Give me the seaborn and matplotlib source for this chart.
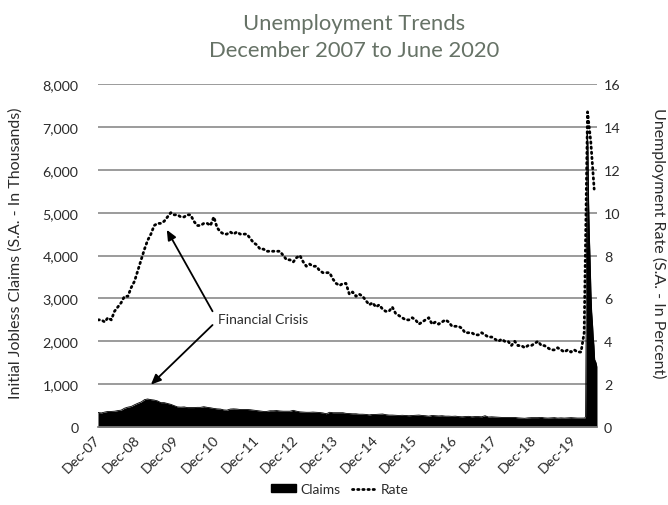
import numpy as np
import pandas as pd
import matplotlib
matplotlib.use("Agg")
import matplotlib.pyplot as plt
import matplotlib.dates as mdates
from matplotlib.patches import Patch
from matplotlib.lines import Line2D
import seaborn as sns

# ---------------- data ----------------
# Initial jobless claims (thousands), monthly Dec-2007 .. Feb-2020
claims_monthly = [
    340,
    330, 350, 365, 365, 370, 385, 395, 440, 465, 480, 520, 555,   # 2008
    585, 640, 655, 640, 630, 610, 570, 570, 550, 530, 500, 470,   # 2009
    465, 470, 455, 455, 455, 460, 460, 475, 460, 450, 435, 425,   # 2010
    420, 400, 395, 420, 425, 420, 410, 410, 410, 405, 395, 385,   # 2011
    375, 365, 365, 380, 380, 385, 375, 370, 370, 370, 390, 370,   # 2012
    355, 350, 345, 345, 350, 345, 340, 330, 310, 345, 335, 335,   # 2013
    335, 335, 320, 315, 310, 310, 300, 300, 295, 285, 295, 295,   # 2014
    300, 305, 290, 280, 280, 275, 270, 275, 270, 265, 270, 275,   # 2015
    280, 270, 265, 255, 270, 265, 260, 265, 255, 255, 250, 255,   # 2016
    245, 240, 245, 250, 240, 245, 245, 240, 265, 235, 240, 235,   # 2017
    230, 225, 225, 225, 225, 225, 215, 210, 205, 215, 220, 220,   # 2018
    220, 225, 215, 210, 215, 220, 210, 215, 210, 215, 220, 215,   # 2019
    210, 210,                                                     # 2020 Jan-Feb
]
claims_weekly_dates = ["2020-03-07", "2020-03-14", "2020-03-21", "2020-03-28",
                       "2020-04-04", "2020-04-11", "2020-04-18", "2020-04-25",
                       "2020-05-02", "2020-05-09", "2020-05-16", "2020-05-23",
                       "2020-05-30", "2020-06-06", "2020-06-13", "2020-06-20",
                       "2020-06-27"]
claims_weekly = [211, 251, 3307, 6867, 6615, 5237, 4442, 3867, 3176, 2687,
                 2446, 2123, 1897, 1566, 1540, 1482, 1413]

# Unemployment rate (%), monthly Dec-2007 .. Jun-2020
rate = [
    5.0,
    5.0, 4.9, 5.1, 5.0, 5.4, 5.6, 5.8, 6.1, 6.1, 6.5, 6.8, 7.3,   # 2008
    7.8, 8.3, 8.7, 9.0, 9.4, 9.5, 9.5, 9.6, 9.8, 10.0, 9.9, 9.9,  # 2009
    9.8, 9.8, 9.9, 9.9, 9.6, 9.4, 9.4, 9.5, 9.5, 9.4, 9.8, 9.3,   # 2010
    9.1, 9.0, 9.0, 9.1, 9.0, 9.1, 9.0, 9.0, 9.0, 8.8, 8.6, 8.5,   # 2011
    8.3, 8.3, 8.2, 8.2, 8.2, 8.2, 8.2, 8.0, 7.8, 7.8, 7.7, 7.9,   # 2012
    8.0, 7.7, 7.5, 7.6, 7.5, 7.5, 7.3, 7.2, 7.2, 7.2, 6.9, 6.7,   # 2013
    6.6, 6.7, 6.7, 6.2, 6.3, 6.1, 6.2, 6.1, 5.9, 5.7, 5.8, 5.6,   # 2014
    5.7, 5.5, 5.4, 5.4, 5.6, 5.3, 5.2, 5.1, 5.0, 5.0, 5.1, 5.0,   # 2015
    4.8, 4.9, 5.0, 5.1, 4.8, 4.9, 4.8, 4.9, 5.0, 4.9, 4.7, 4.7,   # 2016
    4.7, 4.6, 4.4, 4.4, 4.4, 4.3, 4.3, 4.4, 4.3, 4.2, 4.2, 4.1,   # 2017
    4.0, 4.1, 4.0, 4.0, 3.8, 4.0, 3.8, 3.8, 3.7, 3.8, 3.8, 3.9,   # 2018
    4.0, 3.8, 3.8, 3.7, 3.6, 3.6, 3.7, 3.6, 3.5, 3.6, 3.5, 3.6,   # 2019
    3.5, 3.5, 4.4, 14.7, 13.3, 11.1,                              # 2020
]

title_lines = ["Unemployment Trends", "December 2007 to June 2020"]
left_label = "Initial Jobless Claims (S.A. - In Thousands)"
right_label = "Unemployment Rate (S.A. - In Percent)"
annotation_text = "Financial Crisis"
series_names = ["Claims", "Rate"]

# ---------------- build frames ----------------
claims_dates = list(pd.date_range("2007-12-01", periods=len(claims_monthly), freq="MS")) + \
    list(pd.to_datetime(claims_weekly_dates))
claims_df = pd.DataFrame({"date": claims_dates, "claims": claims_monthly + claims_weekly})
rate_df = pd.DataFrame({"date": pd.date_range("2007-12-01", periods=len(rate), freq="MS"),
                        "rate": rate})

# ---------------- figure ----------------
sns.set_theme(style="white")
plt.rcParams["font.family"] = ["Lato", "DejaVu Sans"]

fig = plt.figure(figsize=(6.68, 5.06), dpi=100)
fig.patch.set_facecolor("white")
ax = fig.add_axes([0.1467, 0.154, 0.747, 0.678])
ax.set_facecolor("white")

grid_c = "#808080"
text_c = "#2b2b2b"
dots = (0, (0.5, 1.35))

ax.set_ylim(0, 8000)
ax.set_yticks(np.arange(0, 8001, 1000))
ax.yaxis.set_major_formatter(matplotlib.ticker.FuncFormatter(lambda v, p: f"{v:,.0f}"))
ax.grid(axis="y", color=grid_c, lw=1.1)
ax.grid(axis="x", visible=False)
ax.set_axisbelow(True)

ax.fill_between(claims_df["date"], claims_df["claims"], 0, color="black", lw=0, zorder=2)
sns.lineplot(data=claims_df, x="date", y="claims", ax=ax, color="black", lw=0.6, zorder=2)

ax.set_xlim(pd.Timestamp("2007-12-01"), pd.Timestamp("2020-06-27"))
ticks = pd.date_range("2007-12-01", "2019-12-01", freq="12MS")
ax.set_xticks(ticks)
ax.xaxis.set_major_formatter(mdates.DateFormatter("%b-%y"))
ax.tick_params(axis="x", length=4, width=0.8, color="#7f7f7f", pad=3,
               labelsize=10.3, labelcolor=text_c)
ax.tick_params(axis="y", length=0, pad=14, labelsize=10.3, labelcolor=text_c)
for lab in ax.get_xticklabels():
    lab.set_rotation(45)
    lab.set_ha("right")
    lab.set_va("center")
    lab.set_rotation_mode("anchor")
ax.set_xlabel("")
ax.set_ylabel("")
for s in ["top", "left", "right"]:
    ax.spines[s].set_visible(False)
ax.spines["bottom"].set_color("#7f7f7f")

ax2 = ax.twinx()
sns.lineplot(data=rate_df, x="date", y="rate", ax=ax2, color="black", lw=2.0,
             linestyle=dots, dash_capstyle="round", zorder=3)
ax2.set_ylim(0, 16)
ax2.set_yticks(np.arange(0, 17, 2))
ax2.tick_params(axis="y", length=0, pad=5, labelsize=10.3, labelcolor=text_c)
ax2.set_ylabel("")
ax2.grid(False)
for s in ["top", "left", "right", "bottom"]:
    ax2.spines[s].set_visible(False)
ax2.set_xlim(pd.Timestamp("2007-12-01"), pd.Timestamp("2020-06-27"))

# titles and axis labels
title_c = "#667266"
fig.text(0.53, 0.953, title_lines[0], ha="center", va="center", fontsize=15.8,
         color=title_c, fontweight="normal")
fig.text(0.53, 0.899, title_lines[1], ha="center", va="center", fontsize=15.8,
         color=title_c, fontweight="normal")
fig.text(16 / 668, 1 - 253 / 506, left_label, rotation=90, ha="center", va="center",
         fontsize=11.5, color=text_c)
fig.text(659 / 668, 1 - 243 / 506, right_label, rotation=270, ha="center", va="center",
         fontsize=11.5, color=text_c)

# annotation
ax.text(pd.Timestamp("2010-12-05"), 2520, annotation_text, ha="left", va="center",
        fontsize=10, color=text_c)
arrow = dict(arrowstyle="-|>,head_length=0.5,head_width=0.22", color="black", lw=1.3,
             shrinkA=0, shrinkB=0)
ax.annotate("", xy=(pd.Timestamp("2009-08-25"), 4600),
            xytext=(pd.Timestamp("2010-10-20"), 2700), arrowprops=arrow)
ax.annotate("", xy=(pd.Timestamp("2009-04-01"), 990),
            xytext=(pd.Timestamp("2010-10-20"), 2380), arrowprops=arrow)

# legend
handles = [Patch(facecolor="black", edgecolor="black"),
           Line2D([0], [0], color="black", lw=2.0, linestyle=dots,
                  dash_capstyle="round")]
fig.legend(handles, series_names, loc="lower center", bbox_to_anchor=(0.509, -0.005),
           ncol=2, frameon=False, fontsize=10, handlelength=1.8, handleheight=0.5,
           handletextpad=0.3, columnspacing=0.8, labelcolor=text_c)

fig.savefig("out.png", dpi=100, facecolor="white")
